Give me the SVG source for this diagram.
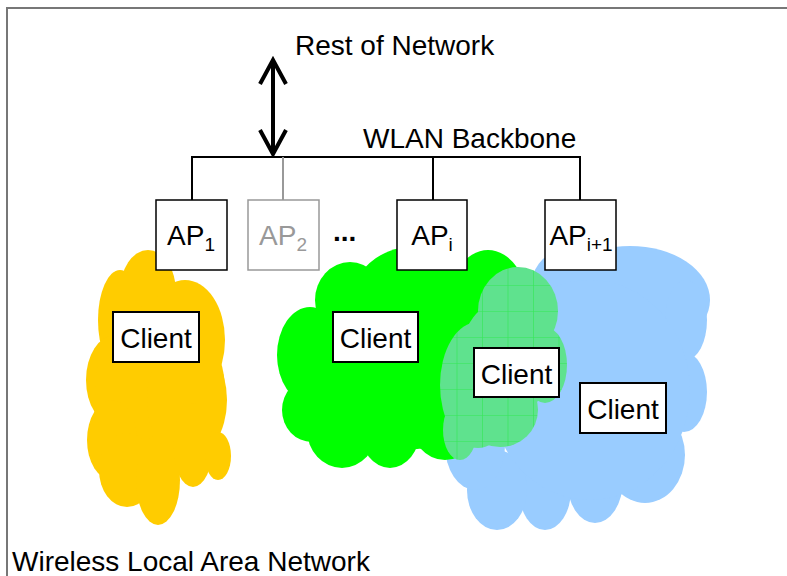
<svg xmlns="http://www.w3.org/2000/svg" width="787" height="576" viewBox="0 0 787 576">
<style>
text{font-family:"Liberation Sans",Arial,sans-serif;font-size:28px;fill:#000}
.box{fill:#fff;stroke:#000;stroke-width:2}
.ap{fill:#fff;stroke:#000;stroke-width:1.5}
.sub{font-size:19px}
.wire{fill:none;stroke:#000;stroke-width:2}
.c{text-anchor:middle}
</style>
<defs>
<pattern id="grid" patternUnits="userSpaceOnUse" x="482" y="285" width="25.5" height="26">
<rect width="25.5" height="26" fill="#5fe28e"/>
<path d="M0 0V26M0 0H25.5" stroke="#33e855" stroke-width="1.2" fill="none"/>
</pattern>
</defs>
<rect width="787" height="576" fill="#fff"/>
<path d="M7 576V8H787" fill="none" stroke="#777" stroke-width="2"/>

<g id="cloud-yellow" fill="#ffcc00">
<ellipse cx="148" cy="292" rx="28" ry="42"/>
<ellipse cx="120" cy="320" rx="22" ry="50"/>
<ellipse cx="185" cy="340" rx="40" ry="60"/>
<ellipse cx="115" cy="380" rx="29" ry="45"/>
<ellipse cx="160" cy="390" rx="65" ry="80"/>
<ellipse cx="187" cy="400" rx="40" ry="60"/>
<ellipse cx="112" cy="440" rx="25" ry="40"/>
<ellipse cx="127" cy="470" rx="28" ry="37"/>
<ellipse cx="158" cy="480" rx="22" ry="45"/>
<ellipse cx="193" cy="445" rx="20" ry="42"/>
<ellipse cx="218" cy="456" rx="13" ry="24"/>
</g>

<g id="cloud-blue" fill="#99ccff">
<ellipse cx="560" cy="292" rx="30" ry="40"/>
<ellipse cx="630" cy="300" rx="80" ry="54"/>
<ellipse cx="686" cy="320" rx="21" ry="40"/>
<ellipse cx="684" cy="392" rx="23" ry="40"/>
<ellipse cx="645" cy="455" rx="40" ry="48"/>
<ellipse cx="595" cy="480" rx="28" ry="43"/>
<ellipse cx="545" cy="490" rx="26" ry="40"/>
<ellipse cx="497" cy="490" rx="30" ry="40"/>
<ellipse cx="475" cy="445" rx="30" ry="45"/>
<ellipse cx="590" cy="390" rx="100" ry="110"/>
</g>

<g id="cloud-green" fill="#00ff00">
<ellipse cx="310" cy="355" rx="33" ry="48"/>
<ellipse cx="350" cy="300" rx="35" ry="38"/>
<ellipse cx="412" cy="302" rx="60" ry="55"/>
<ellipse cx="488" cy="312" rx="42" ry="62"/>
<ellipse cx="312" cy="410" rx="30" ry="32"/>
<ellipse cx="342" cy="430" rx="35" ry="38"/>
<ellipse cx="390" cy="430" rx="30" ry="38"/>
<ellipse cx="445" cy="420" rx="35" ry="40"/>
<ellipse cx="400" cy="370" rx="110" ry="80"/>
</g>

<g id="cloud-overlap" fill="url(#grid)">
<ellipse cx="518" cy="311" rx="40" ry="44"/>
<ellipse cx="545" cy="365" rx="22" ry="38"/>
<ellipse cx="478" cy="385" rx="38" ry="63"/>
<ellipse cx="500" cy="410" rx="38" ry="37"/>
<ellipse cx="460" cy="430" rx="17" ry="30"/>
<ellipse cx="505" cy="360" rx="45" ry="60"/>
</g>

<g id="connectors">
<path class="wire" d="M192 200V157H580V200M433 157V200"/>
<path d="M283 157V200" fill="none" stroke="#999" stroke-width="2"/>
<path d="M273 62V154M260 84L273 60L286 84M260 130L273 154L286 130" fill="none" stroke="#000" stroke-width="4"/>
</g>

<g id="label-rest"><text x="295" y="55">Rest of Network</text></g>
<g id="label-backbone"><text x="363" y="148">WLAN Backbone</text></g>
<g id="label-wlan"><text x="12" y="571">Wireless Local Area Network</text></g>

<g id="ap1">
<rect class="ap" x="156" y="200" width="71" height="70"/>
<text class="c" x="191" y="245">AP<tspan class="sub" dy="6">1</tspan></text>
</g>
<g id="ap2">
<rect x="248" y="200" width="71" height="70" fill="#fff" stroke="#999" stroke-width="1.5"/>
<text class="c" x="283" y="245" style="fill:#999">AP<tspan class="sub" dy="6" style="fill:#999">2</tspan></text>
</g>
<g id="dots"><text x="333" y="241" font-weight="bold">...</text></g>
<g id="api">
<rect class="ap" x="397" y="200" width="70" height="70"/>
<text class="c" x="432" y="245">AP<tspan class="sub" dy="6">i</tspan></text>
</g>
<g id="api1">
<rect class="ap" x="545" y="200" width="71" height="70"/>
<text class="c" x="581" y="245">AP<tspan class="sub" dy="6">i+1</tspan></text>
</g>

<g id="client1">
<rect class="box" x="113" y="312" width="86" height="50"/>
<text class="c" x="156" y="348">Client</text>
</g>
<g id="client2">
<rect class="box" x="333" y="312" width="85" height="50"/>
<text class="c" x="375.5" y="348">Client</text>
</g>
<g id="client3">
<rect class="box" x="474" y="348" width="85" height="49"/>
<text class="c" x="516.5" y="384">Client</text>
</g>
<g id="client4">
<rect class="box" x="580" y="383" width="86" height="50"/>
<text class="c" x="623" y="419">Client</text>
</g>
</svg>
